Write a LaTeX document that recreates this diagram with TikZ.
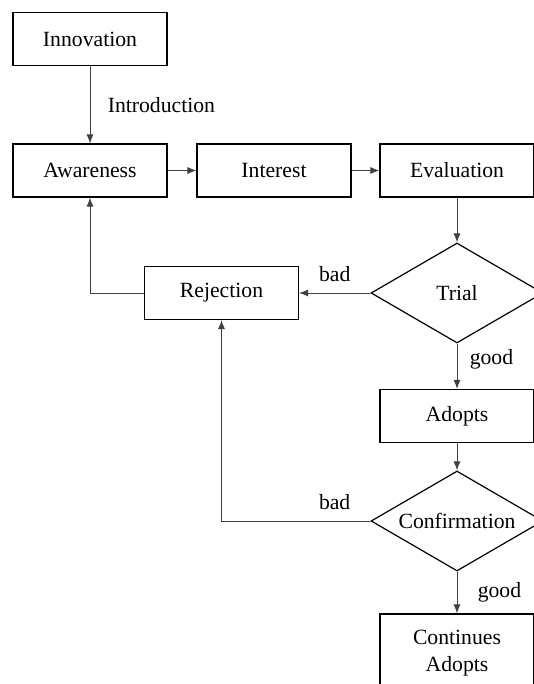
\documentclass[tikz,border=0pt]{standalone}
\usepackage{fontspec}
\setmainfont{Liberation Serif}
\usetikzlibrary{shapes.geometric,arrows.meta}

\begin{document}
\begin{tikzpicture}[x=1pt,y=1pt,
  block/.style = {draw, line width=1.2pt, minimum width=154pt, minimum height=53pt, inner sep=2pt},
  decide/.style = {draw, diamond, line width=1.2pt, aspect=1.72, inner sep=0pt, minimum width=172pt, minimum height=100pt},
  arr/.style = {draw=black!75, line width=0.9pt, -{Latex[length=9pt,width=7pt]}},
  font=\fontsize{21.7}{27}\selectfont]
\useasboundingbox (0,0) rectangle (534,-684);
\node[block] (inno) at (90,-39) {Innovation};
\node[block] (aware) [below of=inno, node distance=131.5pt] {Awareness};
\node[block] (inter) [right of=aware, node distance=184pt] {Interest};
\node[block] (eval) [right of=inter, node distance=183pt] {Evaluation};
\node[decide] (trial) [below of=eval, node distance=122.5pt] {Trial};
\node[block] (rej) [left of=trial, node distance=235.5pt] {Rejection};
\node[block] (adopt) [below of=trial, node distance=123pt] {Adopts};
\node[decide] (conf) [below of=adopt, node distance=105pt] {Confirmation};
\node[block] (cont) [below of=conf, node distance=132pt, minimum height=78pt, align=center] {Continues\\Adopts};
\draw[arr] (inno) -- node[right=14pt] {Introduction} (aware);
\draw[arr] (aware) -- (inter);
\draw[arr] (inter) -- (eval);
\draw[arr] (eval) -- (trial);
\draw[arr] (trial.west) -- node[above=8pt] {bad} (rej.east);
\draw[arr] (trial) -- node[pos=0.35, right=9pt] {good} (adopt);
\draw[arr] (rej.west) -| (aware.south);
\draw[arr] (adopt) -- (conf);
\draw[arr] (conf.west) -| node[pos=0.12, above=8pt] {bad} (rej.south);
\draw[arr] (conf) -- node[right=17pt] {good} (cont);
\end{tikzpicture}
\end{document}
